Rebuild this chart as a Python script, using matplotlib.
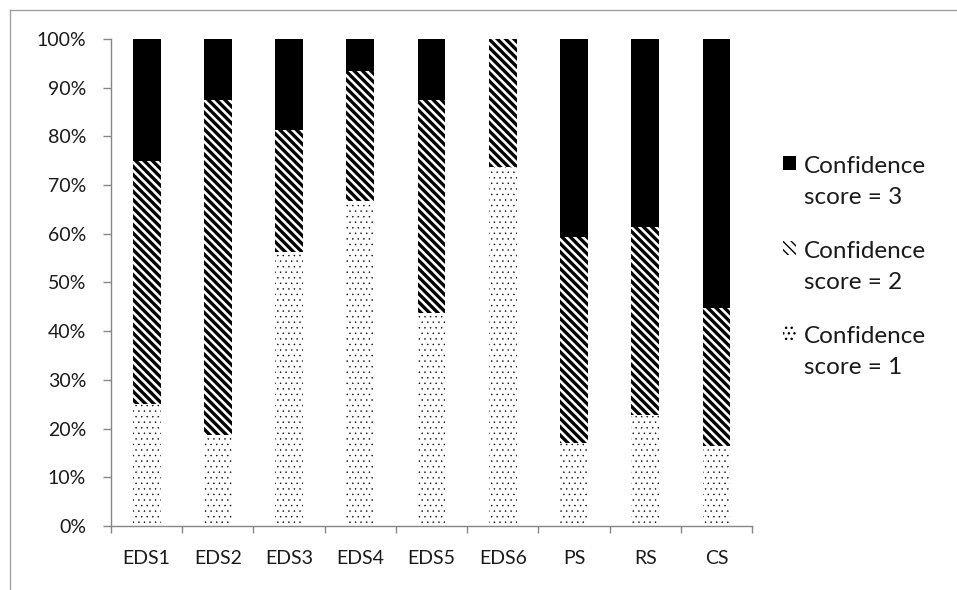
import matplotlib
matplotlib.use('Agg')
import matplotlib.pyplot as plt
import numpy as np
from matplotlib.lines import Line2D
from matplotlib.offsetbox import HPacker, DrawingArea

plt.rcParams['font.family'] = ['Lato', 'DejaVu Sans']

groups = ['EDS1', 'EDS2', 'EDS3', 'EDS4', 'EDS5', 'EDS6', 'PS', 'RS', 'CS']
# share of answers per confidence score, in percent
score1 = [25.0, 18.75, 56.25, 66.7, 43.75, 73.7, 17.0, 22.8, 16.5]
score2 = [50.0, 68.75, 25.0, 26.8, 43.75, 26.3, 42.3, 38.6, 28.3]
score3 = [25.0, 12.5, 18.75, 6.5, 12.5, 0.0, 40.7, 38.6, 55.2]
labels = ['Confidence\nscore = 1', 'Confidence\nscore = 2', 'Confidence\nscore = 3']

txt = '#1a1a1a'
axc = '#868686'

fig = plt.figure(figsize=(9.57, 5.90), dpi=100)
ax = fig.add_axes([0.116, 0.1085, 0.67, 0.8255])

x = np.arange(len(groups))
w = 0.39
s1 = np.array(score1) / 100
s2 = np.array(score2) / 100
s3 = np.array(score3) / 100

with plt.rc_context({'hatch.linewidth': 0.3}):
    b1 = ax.bar(x, s1, w, facecolor='white', edgecolor='black', linewidth=0,
                hatch='...', label=labels[0])
with plt.rc_context({'hatch.linewidth': 2.4}):
    b2 = ax.bar(x, s2, w, bottom=s1, facecolor='white', edgecolor='black',
                linewidth=0, hatch='\\\\\\\\', label=labels[1])
b3 = ax.bar(x, s3, w, bottom=s1 + s2, facecolor='black', edgecolor='black',
            linewidth=0, label=labels[2])

ax.set_xlim(-0.5, len(groups) - 0.5)
ax.set_ylim(0, 1)
ax.set_yticks(np.arange(0, 1.01, 0.1))
ax.set_yticklabels(['{:.0f}%'.format(v * 100) for v in np.arange(0, 1.01, 0.1)])

# category boundaries carry the tick marks, labels sit on the centres
ax.set_xticks(np.arange(-0.5, len(groups), 1.0))
ax.set_xticklabels([])
ax.set_xticks(x, minor=True)
ax.set_xticklabels(groups, minor=True)
ax.tick_params(axis='x', which='major', length=5, width=1, color=axc)
ax.tick_params(axis='x', which='minor', length=0, pad=17, labelsize=14, labelcolor=txt)
ax.tick_params(axis='y', length=6, width=1, color=axc, pad=12, labelsize=14, labelcolor=txt)

for side in ['top', 'right']:
    ax.spines[side].set_visible(False)
for side in ['left', 'bottom']:
    ax.spines[side].set_color(axc)
    ax.spines[side].set_linewidth(1)

handles = [b3, b2, b1]
leg = ax.legend(handles, [labels[2], labels[1], labels[0]], loc='upper left',
                bbox_to_anchor=(1.029, 0.785), frameon=False, fontsize=17.5,
                handlelength=0.55, handleheight=0.55, handletextpad=0.3,
                labelspacing=1.35, borderpad=0, labelcolor=txt)
for t in leg.get_texts():
    t.set_linespacing(1.6)
# put each key beside the first line of its label
for box in leg.findobj(HPacker):
    if any(isinstance(c, DrawingArea) for c in box.get_children()):
        box.align = 'top'

# chart frame, clipped on the right and bottom
fig.add_artist(Line2D([9.5 / 957, 9.5 / 957], [0, 1 - 9.5 / 590], color='#a0a0a0', lw=1))
fig.add_artist(Line2D([9.5 / 957, 1], [1 - 9.5 / 590, 1 - 9.5 / 590], color='#a0a0a0', lw=1))

fig.savefig('out.png', dpi=100)
